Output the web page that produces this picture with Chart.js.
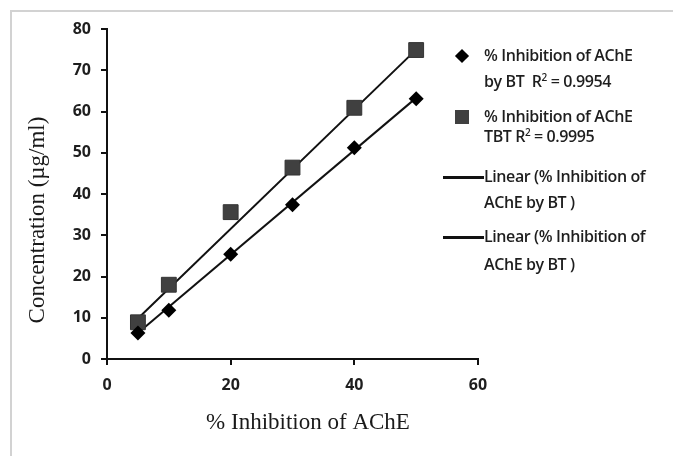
<!DOCTYPE html>
<html>
<head>
<meta charset="utf-8">
<script src="https://cdn.jsdelivr.net/npm/chart.js@4.4.1/dist/chart.umd.min.js"></script>
<style>
  html, body { margin: 0; padding: 0; background: #fff; }
  .wrap { position: relative; width: 673px; height: 456px; overflow: hidden; }
  .frame { position: absolute; left: 10px; top: 10px; width: 700px; height: 500px; border: 2px solid #d2d2d2; }
  canvas { position: absolute; left: 0; top: 0; }
  .legend { position: absolute; left: 0; top: 0; font-family: "Open Sans", sans-serif; font-weight: 600; font-size: 16px; color: #1e1e1e; }
  .legend .txt { position: absolute; left: 484px; white-space: nowrap; letter-spacing: -0.4px; }
  .legend sup { font-size: 10px; }
  .mk-dia { position: absolute; width: 10px; height: 10px; background: #000; transform: rotate(45deg); }
  .mk-sq { position: absolute; width: 14px; height: 14px; background: #404040; }
  .mk-line { position: absolute; left: 443px; width: 41px; height: 3px; background: #111; }
</style>
</head>
<body>
<div class="wrap">
  <div class="frame"></div>
  <canvas id="myChart" width="673" height="456"></canvas>
  <div class="legend">
    <div class="mk-dia" style="left:457px; top:51px"></div>
    <div class="txt" style="top:44px">% Inhibition of AChE</div>
    <div class="txt" style="top:70px">by BT&nbsp; R<sup>2</sup> = 0.9954</div>
    <div class="mk-sq" style="left:455px; top:110px"></div>
    <div class="txt" style="top:105px">% Inhibition of AChE</div>
    <div class="txt" style="top:125px">TBT R<sup>2</sup> = 0.9995</div>
    <div class="mk-line" style="top:176px"></div>
    <div class="txt" style="top:165px">Linear (% Inhibition of</div>
    <div class="txt" style="top:191px">AChE by BT )</div>
    <div class="mk-line" style="top:236px"></div>
    <div class="txt" style="top:225px">Linear (% Inhibition of</div>
    <div class="txt" style="top:253px">AChE by BT )</div>
  </div>
</div>
<script>
//data
const inhibition = [5, 10, 20, 30, 40, 50];
const concBT = [6.3, 11.8, 25.4, 37.4, 51.2, 63.1];
const concTBT = [8.9, 18.0, 35.6, 46.4, 60.9, 74.9];
const trendX = [5, 50];
const trendBT = [6.3, 63.3];
const trendTBT = [9.8, 75.0];
const xTicks = [0, 20, 40, 60];
const yTicks = [0, 10, 20, 30, 40, 50, 60, 70, 80];
const xTitle = '% Inhibition of AChE';
const yTitle = 'Concentration (\u00b5g/ml)';

const toPoints = (xs, ys) => xs.map((x, i) => ({ x: x, y: ys[i] }));

const tickFont = { family: '"Open Sans", sans-serif', size: 16, weight: '700' };

// axis titles drawn next to the plot area
const axisTitles = {
  id: 'axisTitles',
  afterDraw(chart) {
    const { ctx, chartArea } = chart;
    ctx.save();
    ctx.fillStyle = '#1a1a1a';
    ctx.font = '23px "Liberation Serif", serif';
    ctx.textAlign = 'center';
    ctx.textBaseline = 'middle';
    ctx.fillText(xTitle, chartArea.left + 201, chartArea.bottom + 64);
    ctx.translate(38, chartArea.top + 191);
    ctx.rotate(-Math.PI / 2);
    ctx.fillText(yTitle, 0, 0);
    ctx.restore();
  }
};

const lineStyle = { type: 'line', borderColor: '#111', borderWidth: 2, pointRadius: 0, fill: false, order: 2 };

new Chart(document.getElementById('myChart'), {
  type: 'scatter',
  data: {
    datasets: [
      { label: 'BT', data: toPoints(inhibition, concBT), pointStyle: 'rectRot', pointRadius: 7.5,
        backgroundColor: '#000', borderColor: '#000', borderWidth: 0, order: 1 },
      { label: 'TBT', data: toPoints(inhibition, concTBT), pointStyle: 'rect', pointRadius: 10.5,
        backgroundColor: '#404040', borderColor: '#333', borderWidth: 1, order: 1 },
      Object.assign({ label: 'Linear BT', data: toPoints(trendX, trendBT) }, lineStyle),
      Object.assign({ label: 'Linear TBT', data: toPoints(trendX, trendTBT) }, lineStyle)
    ]
  },
  options: {
    responsive: false,
    animation: false,
    layout: { padding: { top: 29, right: 195, left: 0, bottom: 0 } },
    plugins: { legend: { display: false }, tooltip: { enabled: false } },
    scales: {
      x: {
        type: 'linear', min: 0, max: 60,
        afterFit: (s) => { s.height = 97; },
        afterBuildTicks: (s) => { s.ticks = xTicks.map(v => ({ value: v })); },
        border: { color: '#111', width: 2 },
        grid: { drawOnChartArea: false, tickLength: 6, color: '#111', lineWidth: 2 },
        ticks: { font: tickFont, color: '#1e1e1e', padding: 11, maxRotation: 0 }
      },
      y: {
        type: 'linear', min: 0, max: 80,
        afterFit: (s) => { s.width = 107; },
        afterBuildTicks: (s) => { s.ticks = yTicks.map(v => ({ value: v })); },
        border: { color: '#111', width: 2 },
        grid: { drawOnChartArea: false, tickLength: 6, color: '#111', lineWidth: 2 },
        ticks: { font: tickFont, color: '#1e1e1e', padding: 10 }
      }
    }
  },
  plugins: [axisTitles]
});
</script>
</body>
</html>
